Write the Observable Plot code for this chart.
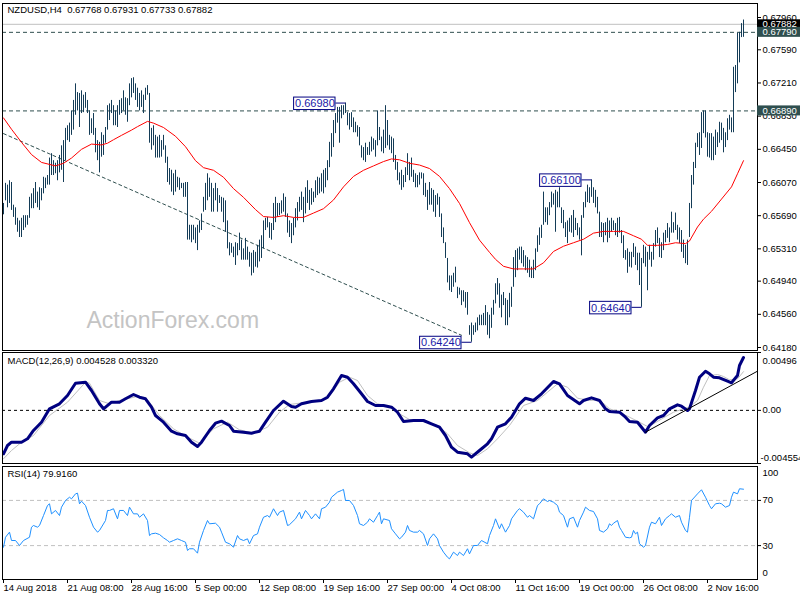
<!DOCTYPE html>
<html><head><meta charset="utf-8">
<script src="https://cdn.jsdelivr.net/npm/d3@7"></script>
<script src="https://cdn.jsdelivr.net/npm/@observablehq/plot@0.6"></script>
<style>
html,body{margin:0;padding:0;background:#fff;}
#chart{position:relative;width:800px;height:600px;overflow:hidden;background:#fff;}
#chart svg{position:absolute;left:0;background:transparent;overflow:visible;}
</style></head><body><div id="chart"></div>
<script>
// ---------- DATA (NZDUSD H4, bar index 0 = 14 Aug 2018) ----------
const highs = [
0.6583,0.6606,0.6604,0.6609,0.6607,0.6581,0.6578,0.6566,0.6563,0.6566,0.6569,0.6569,0.6569,0.6590,0.6594,0.6600,0.6607,0.6596,0.6601,0.6600,
0.6613,0.6612,0.6615,0.6635,0.6640,0.6632,0.6629,0.6632,0.6638,0.6649,0.6655,0.6669,0.6672,0.6675,0.6689,0.6701,0.6720,0.6710,0.6709,0.6712,
0.6707,0.6710,0.6701,0.6689,0.6680,0.6686,0.6669,0.6655,0.6653,0.6664,0.6661,0.6670,0.6695,0.6697,0.6701,0.6695,0.6689,0.6695,0.6701,0.6703,
0.6712,0.6704,0.6703,0.6720,0.6726,0.6727,0.6720,0.6715,0.6709,0.6712,0.6707,0.6715,0.6718,0.6709,0.6669,0.6672,0.6661,0.6659,0.6661,0.6655,
0.6661,0.6649,0.6636,0.6623,0.6621,0.6617,0.6621,0.6613,0.6612,0.6606,0.6606,0.6607,0.6607,0.6558,0.6558,0.6558,0.6555,0.6558,0.6563,0.6571,
0.6590,0.6606,0.6617,0.6612,0.6606,0.6600,0.6606,0.6600,0.6592,0.6590,0.6589,0.6586,0.6563,0.6538,0.6537,0.6533,0.6538,0.6537,0.6549,0.6541,
0.6531,0.6543,0.6533,0.6527,0.6526,0.6529,0.6527,0.6535,0.6541,0.6546,0.6563,0.6566,0.6567,0.6561,0.6560,0.6583,0.6590,0.6583,0.6583,0.6586,
0.6594,0.6590,0.6571,0.6563,0.6560,0.6566,0.6577,0.6584,0.6590,0.6596,0.6590,0.6601,0.6609,0.6598,0.6600,0.6596,0.6609,0.6613,0.6612,0.6617,
0.6621,0.6623,0.6632,0.6653,0.6663,0.6678,0.6686,0.6693,0.6693,0.6695,0.6695,0.6698,0.6687,0.6686,0.6687,0.6681,0.6676,0.6672,0.6670,0.6649,
0.6647,0.6652,0.6647,0.6653,0.6659,0.6657,0.6655,0.6689,0.6670,0.6659,0.6667,0.6695,0.6678,0.6661,0.6659,0.6657,0.6638,0.6630,0.6618,0.6621,
0.6615,0.6624,0.6640,0.6630,0.6635,0.6621,0.6617,0.6615,0.6618,0.6618,0.6617,0.6606,0.6598,0.6607,0.6600,0.6598,0.6592,0.6594,0.6590,0.6571,
0.6555,0.6538,0.6520,0.6500,0.6500,0.6503,0.6510,0.6487,0.6486,0.6483,0.6483,0.6481,0.6481,0.6443,0.6446,0.6443,0.6446,0.6452,0.6455,0.6455,
0.6457,0.6466,0.6458,0.6455,0.6463,0.6472,0.6491,0.6497,0.6491,0.6478,0.6481,0.6474,0.6472,0.6480,0.6487,0.6521,0.6529,0.6531,0.6533,0.6533,
0.6529,0.6523,0.6521,0.6518,0.6510,0.6518,0.6531,0.6546,0.6555,0.6558,0.6596,0.6578,0.6578,0.6584,0.6596,0.6594,0.6598,0.6596,0.6601,0.6578,
0.6575,0.6561,0.6563,0.6566,0.6569,0.6575,0.6566,0.6560,0.6555,0.6569,0.6584,0.6596,0.6604,0.6601,0.6610,0.6601,0.6598,0.6590,0.6573,0.6561,
0.6560,0.6561,0.6566,0.6563,0.6566,0.6563,0.6560,0.6566,0.6567,0.6552,0.6546,0.6529,0.6531,0.6527,0.6527,0.6537,0.6533,0.6526,0.6526,0.6520,
0.6535,0.6533,0.6527,0.6535,0.6527,0.6537,0.6552,0.6555,0.6543,0.6538,0.6549,0.6552,0.6560,0.6555,0.6573,0.6561,0.6572,0.6558,0.6555,0.6552,
0.6541,0.6535,0.6541,0.6583,0.6615,0.6630,0.6652,0.6663,0.6664,0.6687,0.6689,0.6689,0.6664,0.6663,0.6663,0.6659,0.6667,0.6664,0.6676,0.6675,
0.6669,0.6664,0.6680,0.6684,0.6681,0.6739,0.6741,0.6778,0.6779,0.6789,0.67931];
const lows = [
0.6570,0.6586,0.6578,0.6583,0.6575,0.6567,0.6558,0.6550,0.6544,0.6544,0.6552,0.6555,0.6558,0.6566,0.6577,0.6577,0.6583,0.6578,0.6575,0.6586,
0.6594,0.6600,0.6604,0.6604,0.6615,0.6615,0.6617,0.6609,0.6618,0.6621,0.6607,0.6632,0.6655,0.6653,0.6661,0.6667,0.6684,0.6689,0.6670,0.6686,
0.6687,0.6692,0.6686,0.6661,0.6663,0.6661,0.6641,0.6632,0.6618,0.6636,0.6638,0.6652,0.6667,0.6678,0.6686,0.6672,0.6672,0.6670,0.6684,0.6686,
0.6689,0.6684,0.6676,0.6695,0.6704,0.6709,0.6701,0.6693,0.6689,0.6693,0.6686,0.6701,0.6707,0.6652,0.6644,0.6649,0.6635,0.6635,0.6635,0.6636,
0.6644,0.6629,0.6607,0.6604,0.6596,0.6592,0.6596,0.6601,0.6598,0.6600,0.6590,0.6590,0.6541,0.6541,0.6538,0.6541,0.6537,0.6529,0.6549,0.6552,
0.6573,0.6575,0.6586,0.6590,0.6573,0.6573,0.6586,0.6573,0.6583,0.6573,0.6561,0.6550,0.6531,0.6523,0.6526,0.6521,0.6512,0.6523,0.6529,0.6518,
0.6518,0.6518,0.6518,0.6510,0.6500,0.6503,0.6510,0.6509,0.6516,0.6520,0.6531,0.6552,0.6555,0.6543,0.6541,0.6552,0.6561,0.6567,0.6569,0.6571,
0.6573,0.6567,0.6549,0.6544,0.6537,0.6546,0.6555,0.6563,0.6573,0.6575,0.6561,0.6571,0.6583,0.6575,0.6581,0.6584,0.6589,0.6592,0.6594,0.6596,
0.6594,0.6601,0.6609,0.6624,0.6636,0.6647,0.6663,0.6675,0.6652,0.6680,0.6684,0.6686,0.6672,0.6667,0.6670,0.6664,0.6664,0.6659,0.6649,0.6635,
0.6632,0.6630,0.6638,0.6638,0.6642,0.6644,0.6636,0.6649,0.6655,0.6642,0.6640,0.6646,0.6649,0.6644,0.6640,0.6630,0.6621,0.6609,0.6604,0.6598,
0.6601,0.6607,0.6615,0.6609,0.6613,0.6607,0.6601,0.6601,0.6604,0.6611,0.6592,0.6590,0.6575,0.6581,0.6581,0.6573,0.6567,0.6581,0.6567,0.6544,
0.6537,0.6520,0.6492,0.6483,0.6481,0.6487,0.6492,0.6474,0.6478,0.6466,0.6470,0.6463,0.6455,0.6432,0.6424,0.6432,0.6435,0.6437,0.6443,0.6443,
0.6443,0.6443,0.6432,0.6428,0.6440,0.6455,0.6468,0.6478,0.6463,0.6452,0.6466,0.6443,0.6443,0.6452,0.6464,0.6487,0.6498,0.6506,0.6518,0.6514,
0.6510,0.6506,0.6503,0.6498,0.6497,0.6497,0.6506,0.6527,0.6535,0.6543,0.6558,0.6561,0.6558,0.6569,0.6578,0.6581,0.6550,0.6578,0.6578,0.6560,
0.6554,0.6544,0.6537,0.6550,0.6549,0.6544,0.6552,0.6546,0.6541,0.6523,0.6566,0.6578,0.6584,0.6583,0.6590,0.6583,0.6578,0.6571,0.6544,0.6544,
0.6538,0.6546,0.6538,0.6543,0.6550,0.6552,0.6546,0.6544,0.6549,0.6537,0.6520,0.6518,0.6503,0.6510,0.6509,0.6521,0.6512,0.6506,0.6489,0.6464,
0.6514,0.6510,0.6483,0.6518,0.6510,0.6518,0.6533,0.6537,0.6521,0.6520,0.6529,0.6538,0.6543,0.6538,0.6549,0.6549,0.6552,0.6541,0.6537,0.6527,
0.6520,0.6514,0.6512,0.6544,0.6577,0.6604,0.6623,0.6647,0.6638,0.6646,0.6663,0.6658,0.6636,0.6635,0.6632,0.6632,0.6638,0.6647,0.6652,0.6655,
0.6641,0.6647,0.6655,0.6667,0.6664,0.6664,0.6710,0.6720,0.6744,0.6773,0.67733];

// moving average (red), read at selected bars
const maIdx = [0,4,9,14,19,26,30,34,39,44,49,52,55,59,64,67,72,75,80,86,91,96,100,105,110,115,120,126,130,135,140,145,150,155,160,165,170,175,180,185,190,194,198,203,208,213,218,223,228,233,238,243,246,250,255,260,265,270,275,280,285,290,295,300,305,310,315,319,322,327,332,336,341,343,347,350,354,359,364,367,370];
const maVal = [0.6681,0.6668,0.6653,0.6639,0.6630,0.6626,0.6629,0.6635,0.6645,0.6651,0.6650,0.6652,0.6656,0.6661,0.6667,0.6671,0.6677,0.6675,0.6670,0.6660,0.6648,0.6632,0.6624,0.6621,0.6613,0.6600,0.6590,0.6576,0.6568,0.6567,0.6569,0.6567,0.6567,0.6572,0.6577,0.6587,0.6602,0.6614,0.6621,0.6626,0.6631,0.6634,0.6633,0.6629,0.6627,0.6623,0.6614,0.6600,0.6583,0.6561,0.6541,0.6527,0.6519,0.6511,0.6508,0.6508,0.6508,0.6515,0.6528,0.6534,0.6538,0.6542,0.6549,0.6551,0.6551,0.6551,0.6546,0.6542,0.6535,0.6535,0.6536,0.6538,0.6537,0.6540,0.6556,0.6565,0.6574,0.6588,0.6602,0.6617,0.6632];

// MACD(12,26,9) main line and signal line
const macdIdx = [0,2,4,9,12,15,19,23,28,32,36,41,44,48,50,54,58,61,65,68,71,74,76,80,84,87,91,94,97,99,103,106,109,113,115,120,124,128,131,135,140,144,146,149,154,159,162,165,169,172,175,179,182,186,190,194,197,200,205,210,214,218,221,224,227,232,234,238,242,244,247,251,254,258,261,265,269,275,278,282,288,290,294,298,301,303,308,311,313,317,319,321,323,327,330,333,337,339,342,343,346,348,351,353,355,358,362,364,367,368,370];
const macdVal = [-0.003723,-0.003011,-0.002728,-0.002728,-0.002437,-0.001725,-0.001014,0.000135,0.000563,0.001274,0.002329,0.002414,0.001703,0.000563,0.000135,0.000700,0.000700,0.000992,0.001360,0.001129,0.000992,0.000272,-0.000440,-0.001014,-0.001785,-0.002008,-0.002154,-0.002728,-0.003097,-0.002728,-0.001725,-0.001100,-0.000928,-0.001297,-0.001785,-0.001871,-0.001957,-0.001785,-0.001014,-0.000011,0.000786,0.000332,0.000272,0.000563,0.000760,0.000846,0.001129,0.001849,0.002989,0.002843,0.002277,0.001420,0.000760,0.000417,0.000417,0.000272,-0.000157,-0.000954,-0.000868,-0.000868,-0.001151,-0.001443,-0.002154,-0.003157,-0.003585,-0.003723,-0.004014,-0.003440,-0.002865,-0.002437,-0.001443,-0.001151,-0.000585,0.000563,0.001043,0.000846,0.001420,0.002474,0.002277,0.001274,0.000563,0.000846,0.001077,0.000846,0.000135,-0.000097,-0.000157,-0.000585,-0.000954,-0.001014,-0.001443,-0.001871,-0.001297,-0.000637,-0.000440,0.000135,0.000477,0.000357,-0.000011,0.000135,0.001703,0.002843,0.003357,0.003134,0.002843,0.002792,0.002500,0.002363,0.002989,0.003846,0.004528];
const sigIdx = [0,4,9,15,23,32,41,43,48,53,58,67,72,78,85,92,98,105,112,118,125,132,138,143,148,153,162,168,173,177,182,187,193,198,203,210,217,222,227,233,237,242,247,253,260,267,272,277,282,287,293,298,303,308,313,318,322,325,330,335,340,343,347,350,353,357,360,363,367,370];
const sigVal = [-0.004151,-0.003440,-0.002728,-0.002154,-0.000440,0.000700,0.002414,0.002329,0.000846,0.000563,0.000846,0.001189,0.000906,-0.000440,-0.001580,-0.002300,-0.002814,-0.001580,-0.001014,-0.001665,-0.001957,-0.001443,-0.000157,0.000503,0.000614,0.000700,0.000992,0.002414,0.002843,0.002560,0.001274,0.000563,0.000357,-0.000294,-0.000783,-0.000954,-0.001297,-0.002008,-0.003011,-0.003637,-0.003868,-0.003294,-0.002437,-0.001297,0.000417,0.000846,0.001557,0.002277,0.001986,0.001043,0.000846,0.000906,0.000135,-0.000157,-0.000585,-0.001014,-0.001383,-0.001151,-0.000637,-0.000157,0.000135,0.000272,0.000846,0.001986,0.002989,0.003074,0.002903,0.002620,0.002706,0.003320];

// RSI(14)
const rsiIdx = [0,1,3,4,6,8,10,13,14,15,17,18,20,22,23,24,26,28,29,31,33,34,36,37,38,39,41,43,45,47,48,51,52,53,55,57,58,60,62,63,65,67,68,70,72,73,74,76,78,80,82,83,85,87,89,91,92,93,95,97,98,100,102,103,106,108,109,111,113,115,117,118,120,122,123,125,127,128,130,132,133,135,137,138,140,142,143,146,148,149,151,153,154,156,158,159,161,163,164,167,169,170,171,173,175,177,178,180,182,183,185,187,188,189,190,193,194,196,198,199,201,202,203,205,207,208,210,212,213,215,217,218,220,222,223,225,227,228,230,232,233,235,237,239,242,243,245,246,248,249,251,253,254,257,258,260,262,263,265,267,268,270,272,273,275,277,278,280,282,283,285,287,288,290,291,293,295,297,298,300,302,303,304,305,307,308,309,311,313,314,315,316,317,318,320,321,323,324,326,328,329,331,333,334,336,338,339,341,342,343,344,347,349,351,353,354,356,358,359,361,363,364,365,367,368,370];
const rsiVal = [28.6,37.4,41.9,34.5,34.5,30.1,34.5,37.4,46.3,47.8,46.3,47.8,56.6,65.5,67.0,58.1,61.1,56.6,64.0,69.9,72.8,71.4,75.8,76.4,67.0,69.3,65.5,55.1,46.3,41.9,43.4,52.2,61.1,61.1,62.6,53.7,61.1,61.1,56.6,64.0,58.1,58.1,55.1,58.1,52.2,38.9,40.4,41.0,39.8,36.9,34.5,33.0,34.5,36.0,34.5,33.0,25.7,27.2,27.2,23.3,33.0,43.4,52.2,49.3,49.8,46.3,41.9,33.0,31.6,28.6,38.9,36.0,34.5,36.0,31.6,38.9,40.4,46.3,55.1,56.6,55.1,62.6,56.6,59.6,61.1,47.8,48.5,53.7,59.6,53.7,61.1,56.6,53.7,58.1,53.7,62.6,64.0,68.4,72.8,77.3,78.8,79.7,69.9,69.9,65.5,56.6,49.3,47.8,50.7,53.7,50.7,56.6,59.6,49.3,53.7,52.2,44.9,40.4,36.0,37.4,41.9,47.8,43.4,41.9,41.9,43.4,40.4,30.1,36.0,40.4,36.0,30.1,24.2,19.7,18.3,24.2,21.2,24.2,21.2,27.2,22.7,30.1,30.1,34.5,31.6,38.9,47.8,53.7,44.9,49.3,41.9,47.8,53.7,61.1,62.6,59.6,55.1,56.6,53.7,65.5,67.0,71.4,69.0,69.9,68.4,65.5,59.6,56.6,46.3,53.7,55.1,46.3,52.2,59.6,64.0,61.1,60.2,53.7,43.4,41.9,44.9,49.3,47.8,49.8,52.2,46.3,43.4,37.4,36.9,37.4,43.4,40.4,41.9,31.6,28.6,30.1,46.3,50.7,49.3,55.1,47.8,53.7,56.6,58.1,55.1,56.6,50.7,43.4,41.9,55.1,69.9,75.8,79.4,72.8,65.5,62.6,67.0,67.5,67.0,64.0,65.5,72.8,77.3,75.8,80.3,79.9];

// x-axis tick labels
const tickIdx = [0,32,64,96,128,160,192,224,256,288,320,352];
const tickLabels = ["14 Aug 2018","21 Aug 08:00","28 Aug 16:00","5 Sep 00:00","12 Sep 08:00","19 Sep 16:00","27 Sep 00:00","4 Oct 08:00","11 Oct 16:00","19 Oct 00:00","26 Oct 08:00","2 Nov 16:00"];
// price axis ticks
const priceTicks = [0.6796,0.6759,0.6721,0.6683,0.6645,0.6607,0.6569,0.6531,0.6494,0.6456,0.6418];
// horizontal levels and current price
const hLevels = [0.6779,0.6689];
const lastPrice = 0.67882;
// swing-point labels
const swingIdx = [171,294,319,234];
const swingPrice = [0.6698,0.6610,0.6464,0.6424];
const swingText = ["0.66980","0.66100","0.64640","0.64240"];
// trend lines
const trendIdx = [0,229];
const trendPrice = [0.6663,0.6432];
const macdTrendIdx = [321,377];
const macdTrendVal = [-0.00187,0.00336];
// indicator levels
const macdTicks = [0.00496,0,-0.004554];
const rsiTicks = [100,70,30,0];
const headerText = "NZDUSD,H4  0.67768 0.67931 0.67733 0.67882";
const macdText = "MACD(12,26,9) 0.004528 0.003320";
const rsiText = "RSI(14) 79.9160";

// ---------- DRAWING ----------
const FONT = "'Liberation Sans', Arial, sans-serif";
const FS = 9.5;
const BAR = "#143c57", SLATE = "#2f4f4f", NAVY = "#000080";
const X = {domain:[0,370], range:[3,743], axis:null};
const barAt = px => (px-3)/2;           // pixel -> bar index
const mainY = {domain:[0.6418,0.6796], range:[347,17], axis:null};
const ppp = (0.6796-0.6418)/330;        // price per pixel
const style = {fontFamily:FONT, fontSize:FS+"px", background:"transparent", color:"black", overflow:"visible"};
const chart = document.getElementById("chart");
function place(svg, top){ svg.style.top = top+"px"; chart.appendChild(svg); }

const bars = highs.map((h,i)=>({i, h, l: lows[i]}));
const ma = maIdx.map((x,k)=>({x, y: maVal[k]}));
const macd = macdIdx.map((x,k)=>({x, y: macdVal[k]}));
const sig = sigIdx.map((x,k)=>({x, y: sigVal[k]}));
const rsi = rsiIdx.map((x,k)=>({x, y: rsiVal[k]}));
const trend = trendIdx.map((x,k)=>({x, y: trendPrice[k]}));
const mtrend = macdTrendIdx.map((x,k)=>({x, y: macdTrendVal[k]}));
const swings = swingIdx.map((x,k)=>({x, p: swingPrice[k], t: swingText[k]}));
const rightBoxes = [
  {p:lastPrice, t:"0.67882", fill:"black", h:4.5},
  {p:hLevels[0], t:"0.67790", fill:SLATE, h:5},
  {p:hLevels[1], t:"0.66890", fill:SLATE, h:5}
];

const main = Plot.plot({
  width:800, height:351, marginLeft:2, marginRight:43, marginTop:3, marginBottom:1,
  style, x:X, y:mainY,
  marks:[
    Plot.text(["ActionForex.com"], {frameAnchor:"top-left", dx:84, dy:317, lineAnchor:"middle", textAnchor:"start", fill:"#c4c4c4", fontSize:23}),
    Plot.ruleY([lastPrice], {stroke:"#c0c0c0", strokeWidth:1}),
    Plot.ruleY(hLevels, {stroke:SLATE, strokeDasharray:"4,3"}),
    Plot.line(trend, {x:"x", y:"y", stroke:SLATE, strokeDasharray:"3,3", strokeWidth:1}),
    Plot.ruleX(bars, {x:"i", y1:"l", y2:"h", stroke:BAR, strokeWidth:1}),
    Plot.line(ma, {x:"x", y:"y", stroke:"#ff0000", strokeWidth:1}),
    Plot.link(swings, {x1:d=>d.x-5, x2:"x", y1:"p", y2:"p", stroke:NAVY, strokeWidth:1}),
    Plot.rect(swings, {x1:d=>d.x-25.7, x2:d=>d.x-5, y1:d=>d.p-7*ppp, y2:d=>d.p+5.5*ppp, fill:"white", stroke:NAVY, strokeWidth:1}),
    Plot.text(swings, {x:d=>d.x-15.3, y:d=>d.p-0.7*ppp, text:"t", fill:"#1a1aa8", fontSize:11}),
    Plot.text([headerText], {frameAnchor:"top-left", dx:5, dy:3, lineAnchor:"top", textAnchor:"start", fill:"black"}),
    Plot.frame({stroke:"black"}),
    Plot.axisY({anchor:"right", ticks:priceTicks, tickFormat:d3.format(".5f"), tickSize:3, tickPadding:2, fill:"black", label:null}),
    Plot.rect(rightBoxes, {x1:barAt(757), x2:barAt(800), y1:d=>d.p-d.h*ppp, y2:d=>d.p+d.h*ppp, fill:"fill"}),
    Plot.text(rightBoxes, {x:barAt(757), dx:5, y:"p", text:"t", fill:"white", textAnchor:"start"})
  ]
});
place(main, 0);

const macdPlot = Plot.plot({
  width:800, height:114, marginLeft:2, marginRight:43, marginTop:2, marginBottom:1,
  style, x:X, y:{domain:[-0.004554,0.00496], range:[113,2], axis:null},
  marks:[
    Plot.ruleY([0], {stroke:"black", strokeDasharray:"3,3"}),
    Plot.line(sig, {x:"x", y:"y", stroke:"#c0c0c0", strokeWidth:1}),
    Plot.line(macd, {x:"x", y:"y", stroke:NAVY, strokeWidth:3, strokeLinejoin:"round"}),
    Plot.line(mtrend, {x:"x", y:"y", stroke:"black", strokeWidth:1}),
    Plot.text([macdText], {frameAnchor:"top-left", dx:5, dy:5, lineAnchor:"top", textAnchor:"start", fill:"black"}),
    Plot.frame({stroke:"black"}),
    Plot.axisY({anchor:"right", ticks:macdTicks, tickFormat:()=>"", tickSize:3, label:null}),
    Plot.text([macdTicks[0]], {y:d=>d, frameAnchor:"right", dx:5, dy:8, textAnchor:"start", text:()=>"0.00496", fill:"black"}),
    Plot.text([macdTicks[1]], {y:d=>d, frameAnchor:"right", dx:5, textAnchor:"start", text:()=>"0.00", fill:"black"}),
    Plot.text([macdTicks[2]], {y:d=>d, frameAnchor:"right", dx:3, dy:-6, textAnchor:"start", text:()=>"-0.004554", fill:"black"})
  ]
});
place(macdPlot, 350);

const rsiPlot = Plot.plot({
  width:800, height:137, marginLeft:2, marginRight:43, marginTop:3, marginBottom:21,
  style, x:X, y:{domain:[0,100], range:[116,3], axis:null},
  marks:[
    Plot.ruleY([70,30], {stroke:"#c0c0c0", strokeDasharray:"4,3"}),
    Plot.line(rsi, {x:"x", y:"y", stroke:"#1e90ff", strokeWidth:1}),
    Plot.text([rsiText], {frameAnchor:"top-left", dx:5, dy:4, lineAnchor:"top", textAnchor:"start", fill:"black"}),
    Plot.frame({stroke:"black"}),
    Plot.axisY({anchor:"right", ticks:[70,30], tickFormat:()=>"", tickSize:3, label:null}),
    Plot.text([rsiTicks[0]], {y:d=>d, frameAnchor:"right", dx:5, dy:6, textAnchor:"start", text:d=>String(d), fill:"black"}),
    Plot.text(rsiTicks.slice(1,3), {y:d=>d, frameAnchor:"right", dx:5, textAnchor:"start", text:d=>String(d), fill:"black"}),
    Plot.text([rsiTicks[3]], {y:d=>d, frameAnchor:"right", dx:5, dy:-7, textAnchor:"start", text:d=>String(d), fill:"black"}),
    Plot.axisX({anchor:"bottom", ticks:tickIdx, tickFormat:d=>tickLabels[tickIdx.indexOf(d)], tickSize:4, tickPadding:1, textAnchor:"start", fill:"black", label:null})
  ]
});
place(rsiPlot, 463);
</script></body></html>
